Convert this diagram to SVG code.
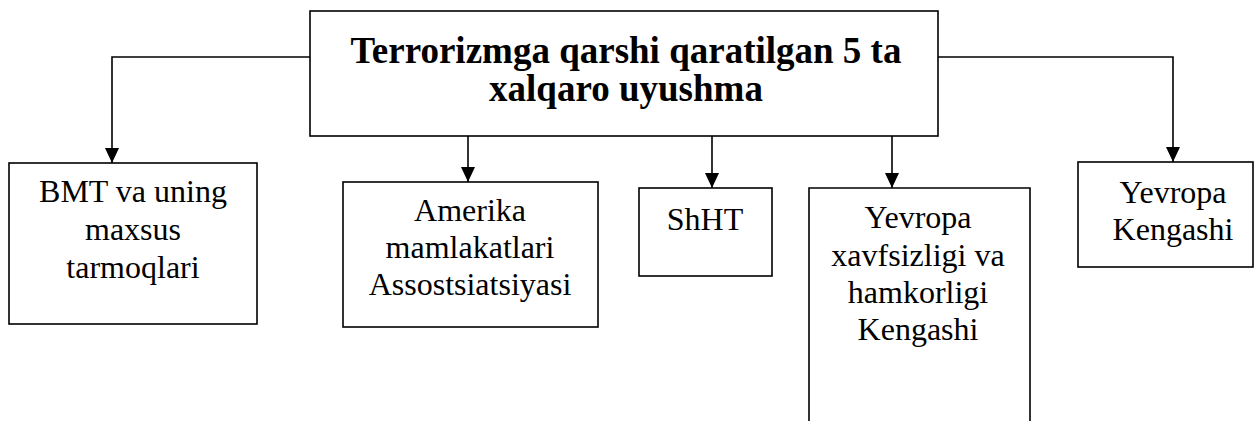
<svg xmlns="http://www.w3.org/2000/svg" width="1255" height="421" viewBox="0 0 1255 421">
<style>
.box{fill:#fff;stroke:#000;stroke-width:1.6}
.t{font-family:'Liberation Serif',serif;font-size:32px;fill:#000;text-anchor:middle}
.h{font-family:'Liberation Serif',serif;font-size:37px;font-weight:bold;fill:#000;text-anchor:middle}
.c{fill:none;stroke:#000;stroke-width:1.6;marker-end:url(#ah)}
</style>
<defs>
<marker id="ah" markerUnits="userSpaceOnUse" markerWidth="16" markerHeight="16" refX="15" refY="7" orient="auto">
<path d="M0,0 L15,7 L0,14 Z" fill="#000"/>
</marker>
</defs>
<g id="connectors">
<path class="c" d="M310,57 H112 V163"/>
<path class="c" d="M468,136 V182"/>
<path class="c" d="M712,136 V188"/>
<path class="c" d="M892,136 V188"/>
<path class="c" d="M938,57 H1173 V162"/>
</g>
<g id="main">
<rect class="box" x="310" y="11" width="628" height="125"/>
<text class="h" x="626" y="63">Terrorizmga qarshi qaratilgan 5 ta</text>
<text class="h" x="626" y="101">xalqaro uyushma</text>
</g>
<g id="bmt">
<rect class="box" x="9" y="163" width="248" height="161"/>
<text class="t" x="133" y="202">BMT va uning</text>
<text class="t" x="133" y="240">maxsus</text>
<text class="t" x="133" y="278">tarmoqlari</text>
</g>
<g id="amerika">
<rect class="box" x="343" y="182" width="255" height="145"/>
<text class="t" x="470" y="221">Amerika</text>
<text class="t" x="470" y="258">mamlakatlari</text>
<text class="t" x="470" y="295">Assostsiatsiyasi</text>
</g>
<g id="shht">
<rect class="box" x="639" y="188" width="133" height="88"/>
<text class="t" x="705" y="230">ShHT</text>
</g>
<g id="yxhk">
<path class="box" d="M809,425 V188 H1030 V425"/>
<text class="t" x="918" y="228">Yevropa</text>
<text class="t" x="918" y="266">xavfsizligi va</text>
<text class="t" x="918" y="303">hamkorligi</text>
<text class="t" x="918" y="340">Kengashi</text>
</g>
<g id="yk">
<rect class="box" x="1078" y="162" width="175" height="105"/>
<text class="t" x="1173" y="203">Yevropa</text>
<text class="t" x="1173" y="240">Kengashi</text>
</g>
</svg>
